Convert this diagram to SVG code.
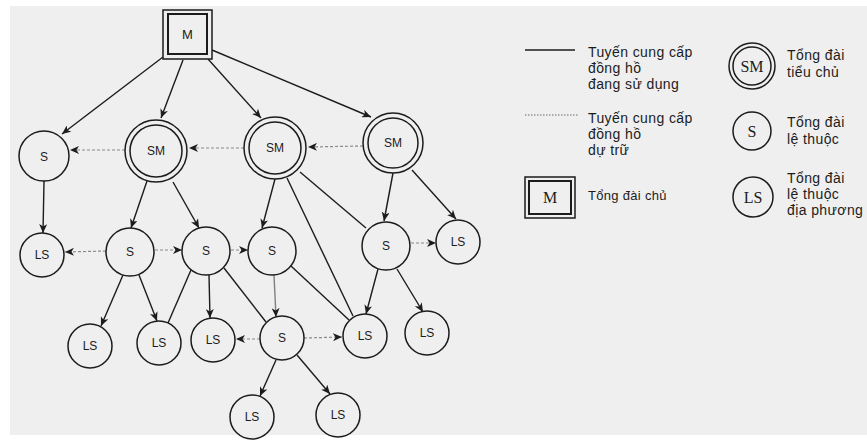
<svg xmlns="http://www.w3.org/2000/svg" width="867" height="444" viewBox="0 0 867 444">
<defs>
<style>
.n{fill:#efefef;stroke:#1c1c1c;stroke-width:1.5}
.lbl{font-family:"Liberation Sans",Arial,sans-serif;font-size:12px;fill:#1c1c1c;text-anchor:middle}
.e{stroke:#1c1c1c;stroke-width:1.4;fill:none}
.ea{marker-end:url(#ah)}
.d{stroke:#8a8a8a;stroke-width:1.2;stroke-dasharray:3 2;fill:none;marker-end:url(#ah)}
.lg{font-family:"Liberation Sans",Arial,sans-serif;font-size:14px;letter-spacing:0.4px;fill:#1c1c1c}
.ls{font-family:"Liberation Serif","Times New Roman",serif;font-size:16px;fill:#1c1c1c;text-anchor:middle}
</style>
<marker id="ah" markerUnits="userSpaceOnUse" markerWidth="10" markerHeight="8" refX="9" refY="4" orient="auto"><path d="M0,0 L9,4 L0,8 L2.5,4 Z" fill="#1c1c1c"/></marker>
</defs>
<rect x="0" y="0" width="867" height="444" fill="#ffffff"/>
<rect x="10" y="6" width="857" height="429" fill="#efefef"/>

<g id="connectors">
<line class="e ea" x1="163" y1="57" x2="62" y2="134"/>
<line class="e ea" x1="183" y1="60" x2="161" y2="118"/>
<line class="e ea" x1="208" y1="59" x2="261" y2="118"/>
<line class="e ea" x1="212" y1="50" x2="371" y2="117"/>
<line class="d" x1="125" y1="150" x2="70" y2="150"/>
<line class="d" x1="244" y1="148" x2="189" y2="148"/>
<line class="d" x1="363" y1="146" x2="308" y2="147"/>
<line class="e ea" x1="44" y1="181" x2="43" y2="233"/>
<line class="e ea" x1="147" y1="181" x2="131" y2="228"/>
<line class="e ea" x1="173" y1="182" x2="199" y2="228"/>
<line class="e ea" x1="275" y1="179" x2="262" y2="228"/>
<line class="e" x1="287" y1="178" x2="353" y2="316"/>
<line class="e" x1="300" y1="172" x2="366" y2="228"/>
<line class="e ea" x1="393" y1="173" x2="384" y2="221"/>
<line class="e ea" x1="412" y1="170" x2="456" y2="219"/>
<line class="d" x1="106" y1="251" x2="65" y2="252"/>
<line class="d" x1="155" y1="250" x2="182" y2="250"/>
<line class="d" x1="231" y1="250" x2="248" y2="250"/>
<line class="e ea" x1="123" y1="275" x2="101" y2="326"/>
<line class="e ea" x1="139" y1="275" x2="157" y2="321"/>
<line class="e" x1="191" y1="270" x2="168" y2="323"/>
<line class="e ea" x1="209" y1="275" x2="210" y2="318"/>
<line class="e" x1="224" y1="268" x2="266" y2="322"/>
<line class="e ea" x1="274" y1="275" x2="276" y2="317" style="stroke:#808080"/>
<line class="e" x1="291" y1="266" x2="349" y2="320"/>
<line class="e ea" x1="378" y1="269" x2="366" y2="314"/>
<line class="e ea" x1="397" y1="269" x2="423" y2="312"/>
<line class="d" x1="411" y1="243" x2="436" y2="243"/>
<line class="d" x1="260" y1="339" x2="236" y2="339"/>
<line class="d" x1="304" y1="338" x2="342" y2="337"/>
<line class="e ea" x1="276" y1="360" x2="260" y2="396"/>
<line class="e ea" x1="297" y1="355" x2="330" y2="394"/>
</g>

<g id="M">
<rect class="n" x="163" y="10" width="49" height="49"/>
<rect class="n" x="168" y="14" width="39" height="40" style="stroke-width:2"/>
<text class="lbl" x="187.5" y="39" style="font-size:13px">M</text>
</g>
<g id="S1"><circle class="n" cx="44" cy="156" r="25"/><text class="lbl" x="44" y="161">S</text></g>
<g id="SM1"><circle class="n" cx="156" cy="151" r="31"/><circle class="n" cx="156" cy="151" r="26"/><text class="lbl" x="156" y="155">SM</text></g>
<g id="SM2"><circle class="n" cx="275" cy="148" r="31"/><circle class="n" cx="275" cy="148" r="26"/><text class="lbl" x="275" y="152">SM</text></g>
<g id="SM3"><circle class="n" cx="393" cy="143" r="30"/><circle class="n" cx="393" cy="143" r="25"/><text class="lbl" x="393" y="147">SM</text></g>
<g id="LSa"><circle class="n" cx="42" cy="255" r="22"/><text class="lbl" x="42" y="259">LS</text></g>
<g id="Sa"><circle class="n" cx="130" cy="252" r="24"/><text class="lbl" x="130" y="256">S</text></g>
<g id="Sb"><circle class="n" cx="206" cy="251" r="24"/><text class="lbl" x="206" y="255">S</text></g>
<g id="Sc"><circle class="n" cx="272" cy="251" r="24"/><text class="lbl" x="272" y="255">S</text></g>
<g id="Sd"><circle class="n" cx="386" cy="246" r="24"/><text class="lbl" x="386" y="250">S</text></g>
<g id="LSb"><circle class="n" cx="458" cy="242" r="22"/><text class="lbl" x="458" y="246">LS</text></g>
<g id="LSc"><circle class="n" cx="90" cy="346" r="22"/><text class="lbl" x="90" y="350">LS</text></g>
<g id="LSd"><circle class="n" cx="159" cy="343" r="22"/><text class="lbl" x="159" y="347">LS</text></g>
<g id="LSe"><circle class="n" cx="213" cy="340" r="22"/><text class="lbl" x="213" y="344">LS</text></g>
<g id="Se"><circle class="n" cx="282" cy="338" r="22"/><text class="lbl" x="282" y="342">S</text></g>
<g id="LSf"><circle class="n" cx="365" cy="336" r="22"/><text class="lbl" x="365" y="340">LS</text></g>
<g id="LSg"><circle class="n" cx="427" cy="333" r="22"/><text class="lbl" x="427" y="337">LS</text></g>
<g id="LSh"><circle class="n" cx="252" cy="417" r="22"/><text class="lbl" x="252" y="421">LS</text></g>
<g id="LSi"><circle class="n" cx="338" cy="415" r="22"/><text class="lbl" x="338" y="419">LS</text></g>

<g id="legend-active">
<line x1="525" y1="50" x2="575" y2="50" stroke="#1c1c1c" stroke-width="1.5"/>
<text class="lg" x="588" y="57">Tuyến cung cấp</text>
<text class="lg" x="588" y="73">đồng hồ</text>
<text class="lg" x="588" y="89">đang sử dụng</text>
</g>
<g id="legend-backup">
<line x1="525" y1="115" x2="578" y2="115" stroke="#6a6a6a" stroke-width="1" stroke-dasharray="1.5 1.5"/>
<text class="lg" x="588" y="123">Tuyến cung cấp</text>
<text class="lg" x="588" y="139">đồng hồ</text>
<text class="lg" x="588" y="155">dự trữ</text>
</g>
<g id="legend-M">
<rect x="525" y="177" width="50" height="41" fill="none" stroke="#1c1c1c" stroke-width="1.5"/>
<rect x="529" y="181" width="42" height="33" fill="none" stroke="#1c1c1c" stroke-width="2"/>
<text class="ls" x="550" y="203">M</text>
<text class="lg" x="588" y="200" style="font-size:13px;letter-spacing:0.3px">Tổng đài chủ</text>
</g>
<g id="legend-SM">
<circle cx="752" cy="66" r="23" fill="none" stroke="#1c1c1c" stroke-width="1.5"/>
<circle cx="752" cy="66" r="19" fill="none" stroke="#1c1c1c" stroke-width="1.5"/>
<text class="ls" x="752" y="72">SM</text>
<text class="lg" x="787" y="60">Tổng đài</text>
<text class="lg" x="787" y="77">tiểu chủ</text>
</g>
<g id="legend-S">
<circle cx="752" cy="131" r="19" fill="none" stroke="#1c1c1c" stroke-width="1.5"/>
<text class="ls" x="752" y="137">S</text>
<text class="lg" x="787" y="127">Tổng đài</text>
<text class="lg" x="787" y="144">lệ thuộc</text>
</g>
<g id="legend-LS">
<circle cx="753" cy="197" r="20" fill="none" stroke="#1c1c1c" stroke-width="1.5"/>
<text class="ls" x="753" y="203">LS</text>
<text class="lg" x="787" y="183">Tổng đài</text>
<text class="lg" x="787" y="199">lệ thuộc</text>
<text class="lg" x="787" y="215">địa phương</text>
</g>
</svg>
